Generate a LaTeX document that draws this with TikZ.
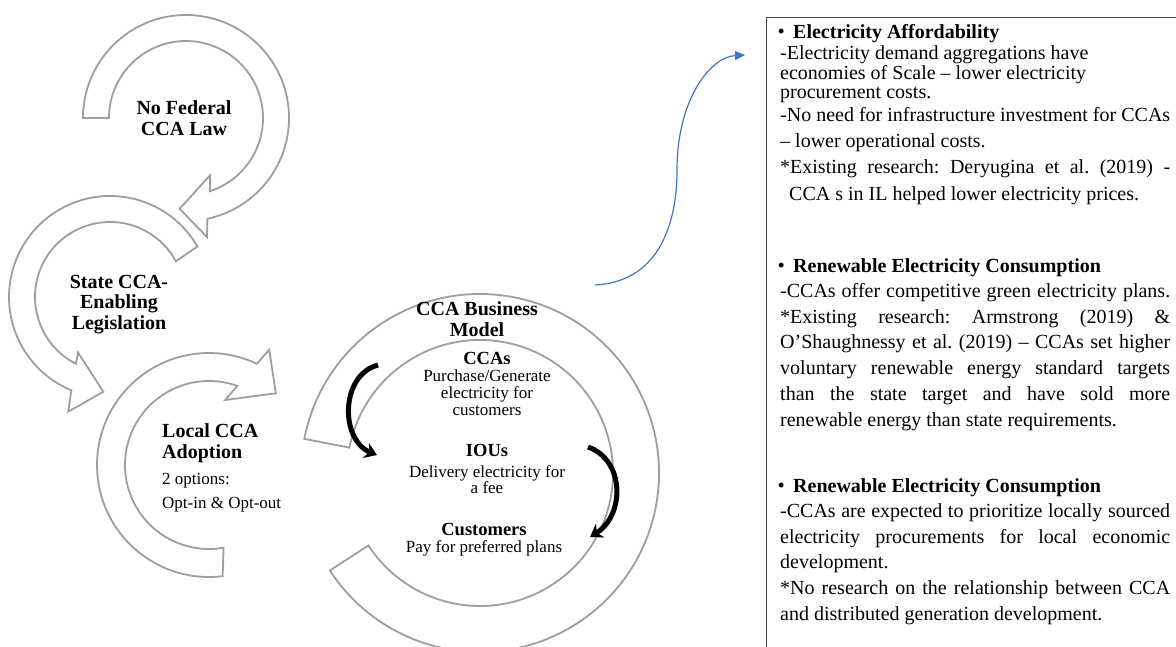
\documentclass[tikz,border=0pt]{standalone}
\usepackage{fontspec}
\setmainfont{Liberation Serif}
\usetikzlibrary{arrows.meta}
\definecolor{ringgray}{RGB}{158,158,158}
\definecolor{linkblue}{RGB}{68,114,196}
\definecolor{boxgray}{RGB}{70,70,70}
\frenchspacing
\begin{document}
\begin{tikzpicture}[x=1pt,y=-1pt,
  cyclearrow/.style={draw=ringgray, line width=1.8pt, fill=white, line join=miter},
  blackarrow/.style={draw=black, line width=5pt, -{Stealth[length=12pt,width=16pt]}},
  bluearrow/.style={draw=linkblue, line width=1.2pt, -{Triangle[length=10pt,width=9pt]}},
  bt/.style={anchor=base west, inner sep=0pt, font=\fontsize{20}{22}\selectfont},
  lb/.style={anchor=base, inner sep=0pt, font=\fontsize{20}{20}\selectfont\bfseries},
  lbw/.style={anchor=base west, inner sep=0pt, font=\fontsize{20}{20}\selectfont\bfseries},
  rw/.style={anchor=base west, inner sep=0pt, font=\fontsize{17}{17}\selectfont},
  mb/.style={anchor=base, inner sep=0pt, font=\fontsize{18.5}{18.5}\selectfont\bfseries},
  mr/.style={anchor=base, inner sep=0pt, font=\fontsize{17}{17}\selectfont}]
\newcommand{\bul}{\makebox[15pt][l]{\raisebox{1pt}{\fontsize{18}{18}\selectfont\bfseries •}}}
\useasboundingbox (0,0) rectangle (1176,646);
\clip (0,0) rectangle (1176,646);

% circular arrow 1: No Federal CCA Law
\begin{scope}[shift={(186,118)}]
\path[cyclearrow] (-180:103) arc[start angle=-180, end angle=78, radius=103]
  -- (80:121) -- (94:91) -- (67:62) -- (72:77)
  arc[start angle=72, end angle=-180, radius=77] -- cycle;
\end{scope}
% circular arrow 2: State CCA-Enabling Legislation
\begin{scope}[shift={(110,297)}]
\path[cyclearrow] (-30:101) arc[start angle=-30, end angle=-247.5, radius=101]
  -- (-250:122) -- (-266:95) -- (-240:64) -- (-243:75)
  arc[start angle=-243, end angle=-28.5, radius=75] -- cycle;
\end{scope}
% circular arrow 3: Local CCA Adoption
\begin{scope}[shift={(209,465)}]
\path[cyclearrow] (-277:112) arc[start angle=-277, end angle=-64.7, radius=112]
  -- (-62.4:130) -- (-47:98) -- (-76:67) -- (-70.3:84)
  arc[start angle=-70.3, end angle=-280, radius=84] -- cycle;
\end{scope}
% ring: CCA Business Model
\begin{scope}[shift={(480,473)}]
\path[cyclearrow] (-169:179) arc[start angle=-169, end angle=147, radius=179]
  -- (147:133) arc[start angle=147, end angle=-169, radius=133] -- cycle;
\end{scope}

% black flow arrows
\coordinate (la0) at (378,365);
\coordinate (la1) at (377,455);
\coordinate (ra0) at (588,447);
\coordinate (ra1) at (590,537);
\draw[blackarrow] (la0) .. controls (340,375) and (340,440) .. (la1);
\draw[blackarrow] (ra0) .. controls (625,460) and (625,515) .. (ra1);

% left labels
\node[lb] (f1) at (184,114) {No Federal};
\node[lb] (f2) at (184,135) {CCA Law};
\node[lb] (s1) at (119,288) {State CCA-};
\node[lb] (s2) at (119,308) {Enabling};
\node[lb] (s3) at (119,329) {Legislation};
\node[lbw] (l1) at (162,437) {Local CCA};
\node[lbw] (l2) at (162,458) {Adoption};
\node[rw] (l3) at (162,484) {2 options:};
\node[rw] (l4) at (162,508) {Opt-in \& Opt-out};

% business model labels
\node[lb] (m1) at (477,315) {CCA Business};
\node[lb] (m2) at (477,336) {Model};
\node[mb] (m3) at (487,364) {CCAs};
\node[mr] (m4) at (487,381) {Purchase/Generate};
\node[mr] (m5) at (487,398) {electricity for};
\node[mr] (m6) at (487,415) {customers};
\node[mb] (m7) at (487,456) {IOUs};
\node[mr] (m8) at (487,477) {Delivery electricity for};
\node[mr] (m9) at (487,493) {a fee};
\node[mb] (m10) at (484,535) {Customers};
\node[mr] (m11) at (484,552) {Pay for preferred plans};

% blue link
\coordinate (bs) at (595,285);
\coordinate (be) at (745,55);
\draw[bluearrow] (bs) .. controls (655,282) and (677,230) .. (677,170)
  .. controls (677,100) and (710,57) .. (be);

% text box
\draw[boxgray, line width=1pt] (766,17) rectangle (1195,670);
\node[bt] (h1) at (778,38) {\bul\textbf{Electricity Affordability}};
\node[bt] (a1) at (780,59) {-Electricity demand aggregations have};
\node[bt] (a2) at (780,79) {economies of Scale – lower electricity};
\node[bt] (a3) at (780,98) {procurement costs.};
\node[bt] (a4) at (780,121) {\makebox[390pt][s]{-No need for infrastructure investment for CCAs}};
\node[bt] (a5) at (780,147) {– lower operational costs.};
\node[bt] (a6) at (780,173) {\makebox[390pt][s]{*Existing research: Deryugina et al. (2019) -}};
\node[bt] (a7) at (789,200) {CCA s in IL helped lower electricity prices.};
\node[bt] (h2) at (778,272) {\bul\textbf{Renewable Electricity Consumption}};
\node[bt] (b1) at (780,297) {\makebox[390pt][s]{-CCAs offer competitive green electricity plans.}};
\node[bt] (b2) at (780,323) {\makebox[390pt][s]{*Existing research: Armstrong (2019) \&}};
\node[bt] (b3) at (780,348) {\makebox[390pt][s]{O’Shaughnessy et al. (2019) – CCAs set higher}};
\node[bt] (b4) at (780,374) {\makebox[390pt][s]{voluntary renewable energy standard targets}};
\node[bt] (b5) at (780,400) {\makebox[390pt][s]{than the state target and have sold more}};
\node[bt] (b6) at (780,426) {renewable energy than state requirements.};
\node[bt] (h3) at (778,492) {\bul\textbf{Renewable Electricity Consumption}};
\node[bt] (c1) at (780,517) {\makebox[390pt][s]{-CCAs are expected to prioritize locally sourced}};
\node[bt] (c2) at (780,543) {\makebox[390pt][s]{electricity procurements for local economic}};
\node[bt] (c3) at (780,568) {development.};
\node[bt] (c4) at (780,594) {\makebox[390pt][s]{*No research on the relationship between CCA}};
\node[bt] (c5) at (780,620) {and distributed generation development.};
\end{tikzpicture}
\end{document}
